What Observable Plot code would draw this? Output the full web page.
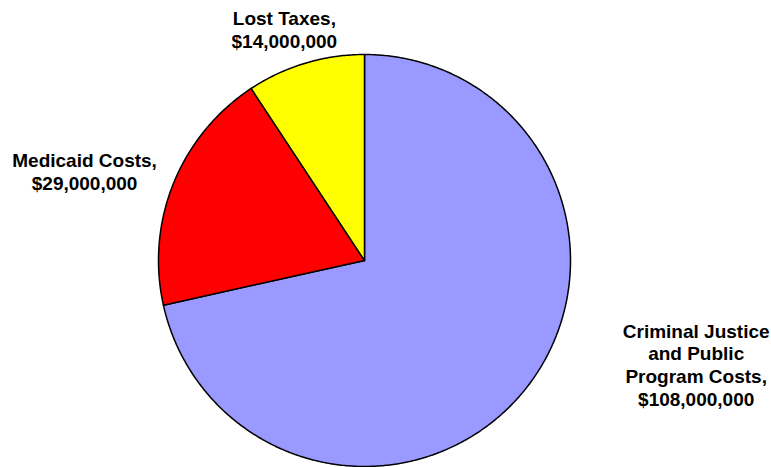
<!DOCTYPE html>
<html>
<head>
<meta charset="utf-8">
<script src="https://cdn.jsdelivr.net/npm/d3@7"></script>
<script src="https://cdn.jsdelivr.net/npm/@observablehq/plot@0.6"></script>
<style>
  html, body { margin: 0; padding: 0; background: #fff; }
  #chart svg { display: block; }
</style>
</head>
<body>
<div id="chart"></div>
<script>
// Data
const categories = ["Criminal Justice and Public Program Costs", "Medicaid Costs", "Lost Taxes"];
const values = [108000000, 29000000, 14000000];
const labels = ["Criminal Justice\nand Public\nProgram Costs,\n$108,000,000", "Medicaid Costs,\n$29,000,000", "Lost Taxes,\n$14,000,000"];
const colors = ["#9999FF", "#FF0000", "#FFFF00"];

// Pie layout (clockwise from 12 o'clock)
const pie = d3.pie().sort(null).value(d => d.value)(categories.map((c, i) => ({name: c, value: values[i], label: labels[i]})));

const polys = [];
for (const s of pie) {
  polys.push({name: s.data.name, x: 0, y: 0});
  const n = Math.max(2, Math.ceil((s.endAngle - s.startAngle) / (Math.PI / 360)));
  for (let k = 0; k <= n; k++) {
    const a = s.startAngle + (s.endAngle - s.startAngle) * k / n;
    polys.push({name: s.data.name, x: Math.sin(a), y: Math.cos(a)});
  }
}
const mids = pie.map(s => {
  const a = (s.startAngle + s.endAngle) / 2;
  return {name: s.data.name, label: s.data.label, x: Math.sin(a), y: Math.cos(a)};
});

// label offsets (px) from slice mid-point on the rim
const offsets = [[171, -25], [-89, -12], [-21, -34]];

const textStyle = {
  fontFamily: "Liberation Sans, Arial, sans-serif",
  fontSize: 19,
  fontWeight: "bold",
  fill: "black",
  lineHeight: 1.2,
  textAnchor: "middle"
};

const chart = Plot.plot({
  width: 771,
  height: 467,
  margin: 0,
  x: {domain: [-1, 1], range: [158, 570], axis: null},
  y: {domain: [-1, 1], range: [466, 54], axis: null},
  color: {domain: categories, range: colors},
  marks: [
    Plot.line(polys, {x: "x", y: "y", z: "name", fill: "name", stroke: "black", strokeWidth: 1.5, curve: "linear-closed", strokeLinejoin: "round"}),
    ...mids.map((m, i) => Plot.text([m], {x: "x", y: "y", text: "label", dx: offsets[i][0], dy: offsets[i][1], ...textStyle}))
  ]
});
document.getElementById("chart").appendChild(chart);
</script>
</body>
</html>
